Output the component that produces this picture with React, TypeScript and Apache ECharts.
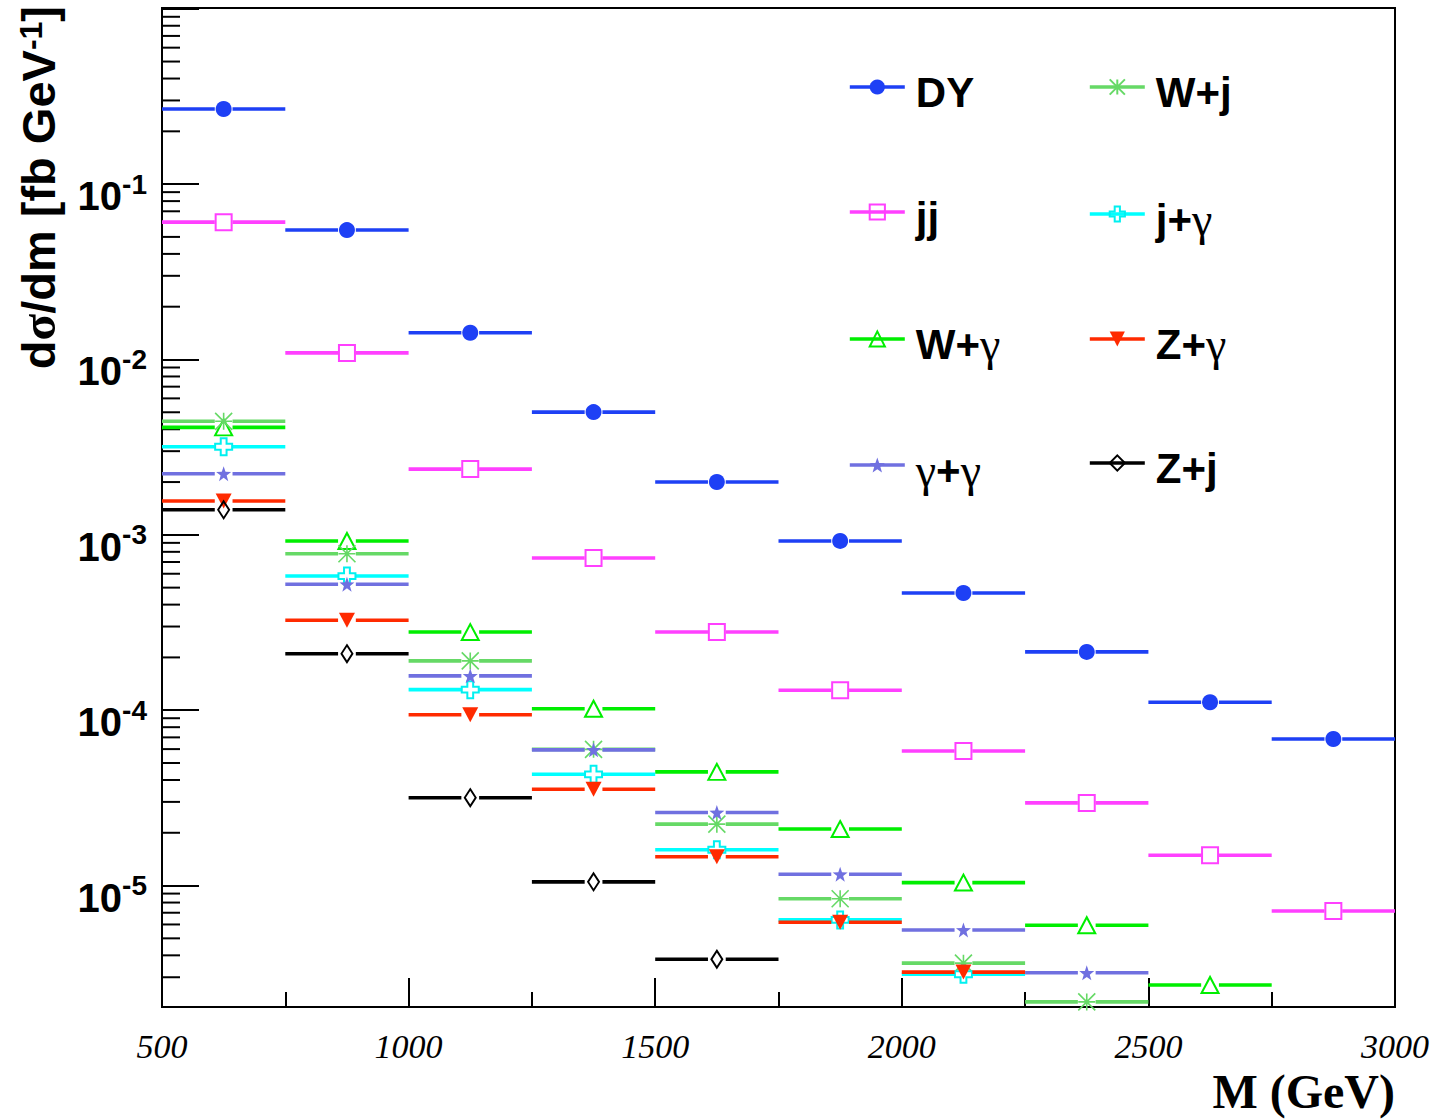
import React, { useEffect, useRef } from 'react';
import * as echarts from 'echarts';

// ---------------- data ----------------
const BIN_EDGES = [500, 750, 1000, 1250, 1500, 1750, 2000, 2250, 2500, 2750, 3000];

const DY = [0.268, 0.0547, 0.0142, 0.00501, 0.0020, 0.000923, 0.000466, 0.000215, 0.000111, 6.85e-5];
const JJ = [0.0607, 0.0109, 0.00237, 0.000738, 0.000279, 0.000130, 5.85e-5, 2.96e-5, 1.49e-5, 7.16e-6];
const W_GAMMA = [0.0041, 0.000923, 0.000279, 0.000102, 4.45e-5, 2.10e-5, 1.04e-5, 5.94e-6, 2.71e-6, null];
const W_J = [0.00444, 0.00078, 0.000191, 5.98e-5, 2.24e-5, 8.41e-6, 3.61e-6, 2.17e-6, null, null];
const J_GAMMA = [0.00318, 0.000582, 0.000131, 4.31e-5, 1.60e-5, 6.37e-6, 3.12e-6, null, null, null];
const Z_GAMMA = [0.00156, 0.000326, 9.42e-5, 3.54e-5, 1.46e-5, 6.18e-6, 3.21e-6, null, null, null];
const GAMMA_GAMMA = [0.00223, 0.000523, 0.000157, 5.94e-5, 2.61e-5, 1.16e-5, 5.58e-6, 3.18e-6, null, null];
const Z_J = [0.00139, 0.00021, 3.17e-5, 1.05e-5, 3.8e-6, null, null, null, null, null];

const X_MIN = 500;
const X_MAX = 3000;
const X_LABEL_STEP = 500;
const Y_MIN = 2.03e-6;
const Y_MAX = 1.01;
const MINOR_MANTISSAS = [2, 3, 4, 5, 6, 7, 8, 9];
const DECADE_EXPONENTS = [-6, -5, -4, -3, -2, -1];

const X_TITLE = 'M (GeV)';

// ---------------- styling ----------------
const GAP = 18; // half-gap around the marker, in GeV
const LINE_W = 3.6;
const SANS = 'Liberation Sans';
const SERIF = 'Liberation Serif';

const STAR = 'path://M0,-10L2.35,-3.24L9.51,-3.09L3.8,1.24L5.88,8.09L0,4L-5.88,8.09L-3.8,1.24L-9.51,-3.09L-2.35,-3.24Z';
const ASTERISK = 'path://M0,0L10,10M0,10L10,0M5,0L5,10M0,5L10,5';
const OPEN_CROSS = 'path://M-1.2,-3.5L1.2,-3.5L1.2,-1.2L3.5,-1.2L3.5,1.2L1.2,1.2L1.2,3.5L-1.2,3.5L-1.2,1.2L-3.5,1.2L-3.5,-1.2L-1.2,-1.2Z';
const CLEAR = 'rgba(0,0,0,0)';

type Spec = {
  name: string;
  values: (number | null)[];
  color: string;
  symbol: string;
  size: number | number[];
  rotate?: number;
  itemStyle: any;
};

const SPECS: Spec[] = [
  { name: 'DY', values: DY, color: '#1e40f5', symbol: 'circle', size: 16, itemStyle: { color: '#1e40f5' } },
  { name: 'jj', values: JJ, color: '#ff40ff', symbol: 'rect', size: 16, itemStyle: { color: CLEAR, borderColor: '#ff40ff', borderWidth: 2 } },
  { name: 'W+γ', values: W_GAMMA, color: '#00ee00', symbol: 'triangle', size: [17, 16], itemStyle: { color: CLEAR, borderColor: '#00ee00', borderWidth: 2 } },
  { name: 'W+j', values: W_J, color: '#66d966', symbol: ASTERISK, size: 17, itemStyle: { color: '#66d966', borderColor: '#66d966', borderWidth: 1.6 } },
  { name: 'j+γ', values: J_GAMMA, color: '#00ffff', symbol: OPEN_CROSS, size: 17, itemStyle: { color: CLEAR, borderColor: '#00f0f0', borderWidth: 2 } },
  { name: 'Z+γ', values: Z_GAMMA, color: '#ff2a00', symbol: 'triangle', size: [16, 15], rotate: 180, itemStyle: { color: '#ff2a00' } },
  { name: 'γ+γ', values: GAMMA_GAMMA, color: '#7070e0', symbol: STAR, size: 15, itemStyle: { color: '#7070e0' } },
  { name: 'Z+j', values: Z_J, color: '#000000', symbol: 'diamond', size: [11, 17], itemStyle: { color: CLEAR, borderColor: '#000', borderWidth: 2 } },
];

const LEGEND_SLOTS: { name: string; left: number; y: number }[] = [
  { name: 'DY', left: 848, y: 87 },
  { name: 'jj', left: 848, y: 212 },
  { name: 'W+γ', left: 848, y: 337 },
  { name: 'γ+γ', left: 848, y: 463 },
  { name: 'W+j', left: 1088, y: 87 },
  { name: 'j+γ', left: 1088, y: 212 },
  { name: 'Z+γ', left: 1088, y: 337 },
  { name: 'Z+j', left: 1088, y: 463 },
];

const BREAK = { value: ['-', '-'], symbol: 'none' };

function buildData(vals: (number | null)[]) {
  const out: any[] = [];
  vals.forEach((v, i) => {
    if (v == null) return;
    const x0 = BIN_EDGES[i];
    const x1 = BIN_EDGES[i + 1];
    const xc = (x0 + x1) / 2;
    out.push(
      { value: [x0, v], symbol: 'none' },
      { value: [xc - GAP, v], symbol: 'none' },
      BREAK,
      { value: [xc, v] },
      BREAK,
      { value: [xc + GAP, v], symbol: 'none' },
      { value: [x1, v], symbol: 'none' },
      BREAK
    );
  });
  return out;
}

function richName(name: string) {
  let s = '';
  let buf = '';
  for (const ch of name) {
    if (ch === 'γ') {
      if (buf) { s += `{a|${buf}}`; buf = ''; }
      s += '{g|γ}';
    } else buf += ch;
  }
  if (buf) s += `{a|${buf}}`;
  return s;
}

export default function App() {
  const ref = useRef<HTMLDivElement>(null);

  useEffect(() => {
    document.body.style.margin = '0';
    const chart = echarts.init(ref.current!, undefined, { renderer: 'svg' });

    const minorTicks: number[][] = [];
    DECADE_EXPONENTS.forEach((e) => {
      MINOR_MANTISSAS.forEach((m) => {
        const v = m * Math.pow(10, e);
        if (v > Y_MIN && v < Y_MAX) minorTicks.push([X_MIN, v]);
      });
    });

    const series: any[] = SPECS.map((s, i) => ({
      type: 'line',
      name: s.name,
      data: buildData(s.values),
      symbol: s.symbol,
      symbolSize: s.size,
      symbolRotate: s.rotate || 0,
      showAllSymbol: true,
      connectNulls: false,
      clip: false,
      lineStyle: { color: s.color, width: LINE_W },
      itemStyle: s.itemStyle,
      emphasis: { disabled: true },
      z: 3 + i,
    }));

    series.push({
      type: 'custom',
      silent: true,
      z: 1,
      data: minorTicks,
      renderItem: (_params: any, api: any) => {
        const p = api.coord([api.value(0), api.value(1)]);
        return {
          type: 'line',
          shape: { x1: p[0], y1: p[1], x2: p[0] + 18, y2: p[1] },
          style: { stroke: '#000', lineWidth: 2 },
        };
      },
    });

    const legends = LEGEND_SLOTS.map((l) => ({
      data: [l.name],
      left: l.left,
      top: l.y - 16,
      padding: 0,
      itemWidth: 55,
      itemHeight: 19,
      selectedMode: false,
      lineStyle: { width: LINE_W },
      formatter: (name: string) => richName(name),
      textStyle: {
        fontSize: 42,
        color: '#000',
        padding: [10, 0, 0, 6],
        rich: {
          a: { fontSize: 42, fontWeight: 'bold', fontFamily: SANS, color: '#000' },
          g: { fontSize: 46, fontFamily: SERIF, color: '#000' },
        },
      },
    }));

    const option: any = {
      animation: false,
      backgroundColor: '#ffffff',
      grid: { left: 162, right: 38, top: 8, bottom: 112, show: true, borderColor: '#000', borderWidth: 2 },
      xAxis: {
        type: 'value',
        min: X_MIN,
        max: X_MAX,
        interval: X_LABEL_STEP,
        axisLine: { show: true, lineStyle: { color: '#000', width: 2 } },
        axisTick: { show: true, inside: true, length: 29, lineStyle: { color: '#000', width: 2 } },
        minorTick: { show: true, splitNumber: 2, length: 15, lineStyle: { color: '#000', width: 2 } },
        splitLine: { show: false },
        axisLabel: {
          margin: 22,
          fontFamily: SERIF,
          fontStyle: 'italic',
          fontSize: 34,
          color: '#000',
          formatter: (v: number) => String(v),
        },
      },
      yAxis: {
        type: 'log',
        logBase: 10,
        min: Y_MIN,
        max: Y_MAX,
        axisLine: { show: true, lineStyle: { color: '#000', width: 2 } },
        axisTick: { show: true, inside: true, length: 37, lineStyle: { color: '#000', width: 2 } },
        splitLine: { show: false },
        minorTick: { show: false },
        axisLabel: {
          margin: 15,
          formatter: (v: number) => {
            const L = Math.log10(v);
            const r = Math.round(L);
            if (Math.abs(L - r) > 1e-6 || r >= 0) return '';
            return `{b|10}{s|${r}}`;
          },
          rich: {
            b: { fontSize: 40, fontWeight: 'bold', fontFamily: SANS, color: '#000', lineHeight: 40, padding: [24, 0, 0, 0] },
            s: { fontSize: 28, fontWeight: 'bold', fontFamily: SANS, color: '#000', lineHeight: 16 },
          },
        },
      },
      legend: legends,
      graphic: [
        {
          type: 'text',
          x: 31,
          y: 6,
          rotation: Math.PI / 2,
          style: {
            text: '{t|d}{g|σ}{t|/dm [fb GeV}{s|-1}{t|]}',
            align: 'right',
            verticalAlign: 'middle',
            rich: {
              t: { fontSize: 47, fontWeight: 'bold', fontFamily: SANS, fill: '#000', lineHeight: 47, padding: [14, 0, 0, 0] },
              g: { fontSize: 49, fontWeight: 'bold', fontFamily: SERIF, fill: '#000', lineHeight: 47, padding: [14, 0, 0, 0] },
              s: { fontSize: 32, fontWeight: 'bold', fontFamily: SANS, fill: '#000', lineHeight: 18 },
            },
          },
        },
        {
          type: 'text',
          x: 1395,
          y: 1091,
          style: {
            text: X_TITLE,
            align: 'right',
            verticalAlign: 'middle',
            font: `bold 48px "${SERIF}"`,
            fill: '#000',
          },
        },
      ],
      series,
    };

    chart.setOption(option);
    return () => chart.dispose();
  }, []);

  return (
    <div
      ref={ref}
      style={{ position: 'absolute', left: 0, top: 0, width: 1433, height: 1119, background: '#fff' }}
    />
  );
}
